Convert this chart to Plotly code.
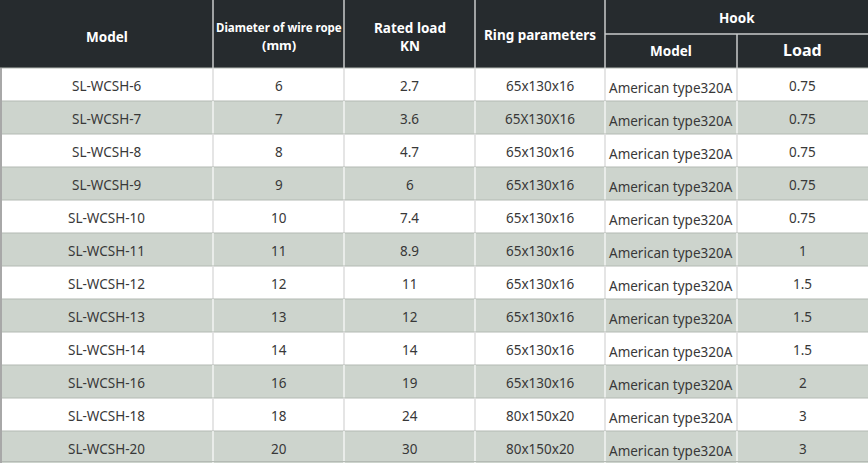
import plotly.graph_objects as go

# ---- data ----
models = ["SL-WCSH-6", "SL-WCSH-7", "SL-WCSH-8", "SL-WCSH-9", "SL-WCSH-10", "SL-WCSH-11",
          "SL-WCSH-12", "SL-WCSH-13", "SL-WCSH-14", "SL-WCSH-16", "SL-WCSH-18", "SL-WCSH-20"]
diameters = ["6", "7", "8", "9", "10", "11", "12", "13", "14", "16", "18", "20"]
rated_loads = ["2.7", "3.6", "4.7", "6", "7.4", "8.9", "11", "12", "14", "19", "24", "30"]
ring_params = ["65x130x16", "65X130X16", "65x130x16", "65x130x16", "65x130x16", "65x130x16",
               "65x130x16", "65x130x16", "65x130x16", "65x130x16", "80x150x20", "80x150x20"]
hook_models = ["American type320A"] * 12
hook_loads = ["0.75", "0.75", "0.75", "0.75", "0.75", "1", "1.5", "1.5", "1.5", "2", "3", "3"]

columns = [models, diameters, rated_loads, ring_params, hook_models, hook_loads]

# ---- style ----
W, H = 868, 463
col_edges = [0, 213, 344, 475, 605, 737, 868]
header_h = 68
row_h = 33
HEADER_BG = "#262b2e"
HEADER_LINE = "#c9cbcb"
ROW_WHITE = "#ffffff"
ROW_GREY = "#cdd4cd"
FONT = "Noto Sans"
TEXT_COLOR = "#383838"

fig = go.Figure()
# invisible trace to establish axes
fig.add_trace(go.Scatter(x=[0, W], y=[0, H], mode="markers", marker=dict(opacity=0),
                         hoverinfo="skip", showlegend=False))

shapes = []
annotations = []

# header background
shapes.append(dict(type="rect", x0=0, x1=W, y0=0, y1=header_h, fillcolor=HEADER_BG,
                   line=dict(width=0), layer="below"))

# body rows
for i in range(len(models)):
    y0 = header_h + i * row_h
    y1 = y0 + row_h
    fill = ROW_WHITE if i % 2 == 0 else ROW_GREY
    shapes.append(dict(type="rect", x0=0, x1=W, y0=y0, y1=y1, fillcolor=fill,
                       line=dict(width=0), layer="below"))
    # horizontal separator
    shapes.append(dict(type="line", x0=0, x1=W, y0=y0, y1=y0,
                       line=dict(color="#b4bab4", width=1.2)))
    # vertical separators
    vcol = "#dcdcdc" if i % 2 == 0 else "#f2f4f2"
    for xe in col_edges[1:-1]:
        shapes.append(dict(type="line", x0=xe, x1=xe, y0=y0, y1=y1,
                           line=dict(color=vcol, width=1.5)))
    # texts
    for c, col in enumerate(columns):
        val = col[i]
        if c == 4:
            annotations.append(dict(x=col_edges[c] + 2, y=y0 + row_h / 2 + 3, text=val,
                                    xanchor="left", yanchor="middle", showarrow=False,
                                    font=dict(family=FONT, size=13.5, color=TEXT_COLOR)))
        else:
            annotations.append(dict(x=(col_edges[c] + col_edges[c + 1]) / 2,
                                    y=y0 + row_h / 2 + 1.5,
                                    text=val, xanchor="center", yanchor="middle", showarrow=False,
                                    font=dict(family=FONT, size=13.5, color=TEXT_COLOR)))

# bottom border
shapes.append(dict(type="line", x0=0, x1=W, y0=H - 1.5, y1=H - 1.5,
                   line=dict(color="#b4bab4", width=1.2)))
# left border
shapes.append(dict(type="line", x0=1, x1=1, y0=header_h, y1=H,
                   line=dict(color="#a8a8a8", width=2)))

# header separators
for xe in col_edges[1:5]:
    shapes.append(dict(type="line", x0=xe, x1=xe, y0=0, y1=header_h,
                       line=dict(color=HEADER_LINE, width=1.5)))
shapes.append(dict(type="line", x0=col_edges[4], x1=W, y0=34, y1=34,
                   line=dict(color=HEADER_LINE, width=1.5)))
shapes.append(dict(type="line", x0=col_edges[5], x1=col_edges[5], y0=34, y1=header_h,
                   line=dict(color=HEADER_LINE, width=1.5)))

def htext(x, y, text, size=13.5):
    annotations.append(dict(x=x, y=y, text=text, xanchor="center", yanchor="middle",
                            showarrow=False,
                            font=dict(family=FONT, size=size, color="white", weight="bold")))

def cx(c):
    return (col_edges[c] + col_edges[c + 1]) / 2

htext(cx(0), 37, "Model")
htext(cx(1), 27, "Diameter of wire rope", size=11.5)
htext(cx(1), 45, "(mm)", size=13)
htext(cx(2), 28, "Rated load")
htext(cx(2), 46, "KN")
htext(cx(3), 35, "Ring parameters")
htext((col_edges[4] + W) / 2, 18, "Hook")
htext(cx(4), 51, "Model")
htext(cx(5), 50, "Load", size=16)

fig.update_layout(
    width=W, height=H,
    margin=dict(l=0, r=0, t=0, b=0),
    paper_bgcolor="white", plot_bgcolor="white",
    xaxis=dict(range=[0, W], visible=False, fixedrange=True),
    yaxis=dict(range=[H, 0], visible=False, fixedrange=True),
    shapes=shapes, annotations=annotations,
    showlegend=False,
)

fig.write_html("out.html", config={"displayModeBar": False},
               post_script="document.body.style.margin='0';document.body.style.padding='0';"
                           "document.body.style.overflow='hidden';")
